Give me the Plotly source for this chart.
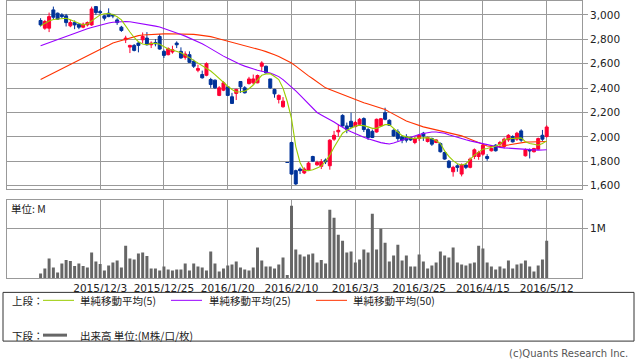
import pandas as pd
import plotly.graph_objects as go

# ---------------- data ----------------
holidays = ['2015-11-23', '2015-12-23', '2015-12-31', '2016-01-01', '2016-01-11',
            '2016-02-11', '2016-03-21', '2016-04-29', '2016-05-03', '2016-05-04', '2016-05-05']
dates = pd.bdate_range('2015-11-12', '2016-05-12', freq='C',
                       holidays=holidays).strftime('%Y-%m-%d').tolist()

open_ = [2954, 2891, 2891, 3041, 3014, 3000, 2992, 2910, 2937, 2924,
         2899, 2918, 2918, 3068, 3027, 2992, 3014, 3000, 2959, 2899,
         2796, 2736, 2750, 2769, 2796, 2810, 2755, 2774, 2823, 2701,
         2674, 2696, 2769, 2701, 2652, 2674, 2619, 2546, 2511, 2505,
         2470, 2465, 2340, 2383, 2410, 2329, 2356, 2454, 2402, 2437,
         2443, 2443, 2579, 2579, 2475, 2389, 2307, 2247, 1790, 1954,
         1723, 1736, 1704, 1728, 1839, 1771, 1758, 1810, 1763, 1981,
         2041, 2176, 2090, 2128, 2084, 2103, 2150, 2060, 2045, 2040,
         2090, 2198, 2136, 2054, 2041, 2000, 2000, 1994, 1954, 1986,
         2030, 1962, 1986, 1954, 1945, 1872, 1801, 1714, 1763, 1695,
         1769, 1750, 1839, 1839, 1858, 1839, 1886, 1932, 1940, 1921,
         1975, 2003, 1981, 2049, 1845, 1894, 1878, 1899, 2013, 2003]
high = [2973, 2959, 3019, 3068, 3019, 3014, 3008, 2959, 2954, 2932,
        2937, 2946, 3068, 3073, 3041, 3000, 3054, 3008, 2973, 2910,
        2829, 2755, 2761, 2777, 2856, 2859, 2783, 2802, 2842, 2715,
        2734, 2747, 2783, 2734, 2701, 2701, 2633, 2592, 2543, 2611,
        2484, 2470, 2416, 2456, 2416, 2361, 2394, 2456, 2416, 2492,
        2511, 2511, 2620, 2584, 2475, 2394, 2348, 2326, 1790, 1960,
        1731, 1750, 1750, 1796, 1845, 1804, 1818, 1823, 1981, 2049,
        2103, 2185, 2117, 2198, 2130, 2155, 2160, 2075, 2060, 2150,
        2155, 2239, 2144, 2062, 2062, 2013, 2022, 2000, 2003, 2022,
        2041, 2003, 1994, 1981, 1954, 1878, 1810, 1763, 1777, 1782,
        1785, 1831, 1905, 1886, 1948, 1858, 1910, 1940, 1967, 1994,
        2022, 2013, 2041, 2062, 1905, 1905, 1910, 1994, 2057, 2095]
low = [2905, 2878, 2859, 2965, 2959, 2973, 2905, 2899, 2883, 2883,
       2891, 2905, 2910, 3000, 3000, 2954, 2981, 2973, 2918, 2861,
       2769, 2687, 2701, 2693, 2769, 2750, 2728, 2742, 2715, 2647,
       2668, 2682, 2728, 2641, 2633, 2606, 2565, 2530, 2478, 2497,
       2402, 2394, 2334, 2375, 2334, 2270, 2302, 2361, 2356, 2429,
       2429, 2440, 2538, 2519, 2394, 2321, 2274, 2239, 1790, 1690,
       1606, 1695, 1695, 1723, 1796, 1763, 1736, 1777, 1731, 1967,
       2003, 2084, 2030, 2076, 2080, 2095, 2040, 1975, 1990, 2035,
       2085, 2136, 2090, 2003, 1967, 1948, 1954, 1967, 1940, 1967,
       1967, 1954, 1926, 1948, 1872, 1812, 1742, 1674, 1714, 1676,
       1736, 1742, 1818, 1812, 1845, 1804, 1880, 1880, 1921, 1905,
       1959, 1954, 1967, 1959, 1839, 1823, 1872, 1894, 1967, 1994]
close = [2918, 2946, 2986, 2981, 2965, 2986, 2937, 2937, 2918, 2899,
         2924, 2937, 3049, 3019, 3019, 2973, 2986, 2992, 2937, 2872,
         2810, 2750, 2709, 2750, 2823, 2755, 2769, 2763, 2720, 2668,
         2723, 2715, 2755, 2647, 2679, 2611, 2579, 2560, 2484, 2600,
         2429, 2402, 2402, 2443, 2340, 2274, 2389, 2410, 2361, 2475,
         2475, 2503, 2606, 2524, 2402, 2353, 2340, 2293, 1790, 1695,
         1614, 1723, 1736, 1785, 1801, 1790, 1796, 1796, 1973, 2013,
         2054, 2090, 2062, 2081, 2117, 2144, 2060, 1995, 1995, 2144,
         2149, 2144, 2095, 2008, 1986, 1973, 1973, 1975, 1986, 2013,
         2008, 1994, 1940, 1975, 1878, 1818, 1750, 1750, 1750, 1769,
         1750, 1818, 1894, 1872, 1932, 1823, 1905, 1886, 1954, 1981,
         2013, 1959, 2030, 1973, 1894, 1886, 1905, 1986, 1981, 2081]

ma5 = [2910, 2932, 2950, 2962, 2967, 2971, 2973, 2960, 2946, 2930,
       2918, 2925, 2950, 2978, 3000, 3010, 3012, 3003, 2985, 2959,
       2905, 2860, 2815, 2780, 2762, 2755, 2766, 2768, 2760, 2740,
       2720, 2712, 2703, 2690, 2670, 2648, 2625, 2606, 2585, 2565,
       2540, 2511, 2478, 2448, 2415, 2388, 2368, 2370, 2375, 2395,
       2425, 2465, 2505, 2515, 2518, 2495, 2470, 2400, 2290, 2150,
       1920, 1790, 1725, 1722, 1730, 1745, 1760, 1800, 1850, 1915,
       1975, 2030, 2055, 2075, 2088, 2095, 2092, 2082, 2070, 2070,
       2085, 2100, 2100, 2070, 2040, 2010, 2000, 1990, 1988, 1990,
       1994, 1994, 1985, 1970, 1945, 1885, 1840, 1805, 1780, 1770,
       1780, 1815, 1850, 1875, 1898, 1905, 1913, 1925, 1940, 1975,
       1985, 1986, 1990, 1992, 1960, 1945, 1940, 1932, 1945, 1967]
ma25 = [2747, 2760, 2773, 2786, 2799, 2811, 2825, 2839, 2853, 2866,
        2877, 2887, 2897, 2907, 2916, 2925, 2933, 2940, 2944, 2946,
        2946, 2944, 2939, 2933, 2926, 2921, 2915, 2908, 2901, 2890,
        2878, 2866, 2853, 2840, 2826, 2812, 2798, 2782, 2764, 2744,
        2722, 2700, 2680, 2662, 2644, 2626, 2609, 2594, 2580, 2567,
        2555, 2546, 2538, 2531, 2524, 2510, 2494, 2469, 2440, 2410,
        2377, 2343, 2307, 2270, 2234, 2200, 2180, 2162, 2145, 2122,
        2099, 2077, 2059, 2042, 2026, 2011, 1997, 1985, 1973, 1963,
        1953, 1947, 1942, 1950, 1962, 1975, 1986, 1996, 2010, 2020,
        2028, 2035, 2040, 2040, 2036, 2030, 2018, 2006, 1994, 1985,
        1976, 1967, 1959, 1950, 1942, 1934, 1927, 1920, 1914, 1910,
        1907, 1904, 1901, 1899, 1897, 1895, 1893, 1891, 1892, 1894]
ma50 = [2470, 2488, 2505, 2523, 2540, 2558, 2576, 2593, 2611, 2628,
        2646, 2664, 2681, 2699, 2716, 2734, 2751, 2769, 2780, 2790,
        2805, 2815, 2824, 2830, 2835, 2838, 2840, 2842, 2843, 2844,
        2845, 2845, 2845, 2844, 2843, 2841, 2840, 2836, 2832, 2829,
        2822, 2813, 2804, 2796, 2787, 2778, 2769, 2760, 2751, 2742,
        2732, 2721, 2710, 2699, 2688, 2673, 2658, 2640, 2623, 2606,
        2580, 2552, 2525, 2500, 2476, 2451, 2427, 2402, 2388, 2374,
        2360, 2346, 2334, 2321, 2307, 2294, 2280, 2269, 2258, 2247,
        2236, 2225, 2205, 2185, 2164, 2144, 2131, 2117, 2104, 2090,
        2082, 2074, 2066, 2057, 2049, 2041, 2033, 2024, 2016, 2008,
        1994, 1979, 1964, 1950, 1937, 1925, 1922, 1921, 1921, 1928,
        1935, 1942, 1949, 1955, 1957, 1958, 1959, 1960, 1961, 1962]

volume_m = [0.10, 0.20, 0.40, 0.22, 0.12, 0.30, 0.37, 0.35, 0.25, 0.30,
            0.25, 0.22, 0.52, 0.34, 0.29, 0.16, 0.26, 0.32, 0.36, 0.22,
            0.66, 0.40, 0.38, 0.50, 0.52, 0.45, 0.20, 0.20, 0.16, 0.24,
            0.18, 0.16, 0.18, 0.18, 0.30, 0.16, 0.30, 0.24, 0.22, 0.16,
            0.54, 0.30, 0.14, 0.20, 0.26, 0.28, 0.34, 0.22, 0.18, 0.16,
            0.22, 0.62, 0.36, 0.24, 0.24, 0.20, 0.28, 0.42, 0.07, 1.46,
            0.58, 0.48, 0.44, 0.48, 0.50, 0.32, 0.37, 0.30, 1.38, 1.22,
            0.88, 0.76, 0.52, 0.54, 0.32, 0.38, 0.58, 0.52, 1.30, 0.58,
            1.00, 0.72, 0.34, 0.46, 0.68, 0.36, 0.46, 0.24, 0.24, 0.48,
            0.34, 0.20, 0.26, 0.32, 0.54, 0.46, 0.42, 0.62, 0.32, 0.28,
            0.26, 0.30, 0.32, 0.66, 0.60, 0.32, 0.24, 0.18, 0.24, 0.20,
            0.36, 0.20, 0.28, 0.30, 0.36, 0.24, 0.14, 0.26, 0.38, 0.76]

tick_dates = ['2015-12-03', '2015-12-25', '2016-01-20', '2016-02-10',
              '2016-03-03', '2016-03-25', '2016-04-15', '2016-05-12']
tick_labels = ['2015/12/3', '2015/12/25', '2016/1/20', '2016/2/10',
               '2016/3/3', '2016/3/25', '2016/4/15', '2016/5/12']
price_ticks = [1600, 1800, 2000, 2200, 2400, 2600, 2800, 3000]

# ---------------- styling ----------------
W, H = 638, 362
RED = '#ff0033'
BLUE = '#003399'
C5, C25, C50 = '#99cc00', '#9900ff', '#ff3300'
GRID = '#999999'
FONT = 'DejaVu Sans, Noto Sans CJK JP, sans-serif'
JFONT = 'Noto Sans CJK JP, DejaVu Sans, sans-serif'


def fx(p):
    return p / W


def fy(p):
    return 1 - p / H


fig = go.Figure()
fig.add_trace(go.Candlestick(
    x=dates, open=open_, high=high, low=low, close=close,
    increasing=dict(line=dict(color=RED, width=1), fillcolor=RED),
    decreasing=dict(line=dict(color=BLUE, width=1), fillcolor=BLUE),
    whiskerwidth=0, showlegend=False, hoverinfo='none',
    xaxis='x', yaxis='y'))
for vals, col in ((ma50, C50), (ma25, C25), (ma5, C5)):
    fig.add_trace(go.Scatter(x=dates, y=vals, mode='lines',
                             line=dict(color=col, width=1.1),
                             showlegend=False, hoverinfo='none',
                             xaxis='x', yaxis='y'))
fig.add_trace(go.Bar(x=dates, y=volume_m, marker=dict(color='#666666', line=dict(width=0)),
                     width=0.7, showlegend=False, hoverinfo='none',
                     xaxis='x2', yaxis='y2'))

xdom = [fx(7), fx(582)]
axis_common = dict(showgrid=True, gridcolor=GRID, gridwidth=1, showline=True,
                   mirror=True, linecolor=GRID, linewidth=1, zeroline=False)
fig.update_layout(
    width=W, height=H, margin=dict(l=0, r=0, t=0, b=0),
    paper_bgcolor='white', plot_bgcolor='white',
    font=dict(family=FONT, size=10, color='#222222'),
    boxgap=0.3, boxgroupgap=0,
    xaxis=dict(domain=xdom, type='category', range=[-7.9, 127.3], anchor='y',
               tickvals=tick_dates, showticklabels=False, ticks='',
               rangeslider=dict(visible=False), **axis_common),
    yaxis=dict(domain=[fy(190), fy(1)], range=[1573, 3114], side='right',
               tickvals=price_ticks, tickformat=',', ticks='outside', ticklen=5,
               tickcolor=GRID, tickfont=dict(size=10.5), anchor='x', **axis_common),
    xaxis2=dict(domain=xdom, type='category', matches='x', anchor='y2',
                tickvals=tick_dates, ticktext=tick_labels, ticks='',
                tickfont=dict(size=10.5), **axis_common),
    yaxis2=dict(domain=[fy(280), fy(201)], range=[0, 1.58], side='right',
                tickvals=[1], ticktext=['1M'], ticks='outside', ticklen=5,
                tickcolor=GRID, tickfont=dict(size=10.5), anchor='x2', **axis_common),
    bargap=0.3,
)

annotations = [
    dict(x=fx(9), y=fy(210), text='単位: M', xanchor='left', yanchor='middle',
         font=dict(family=JFONT, size=10.5)),
    dict(x=fx(10), y=fy(302), text='上段：', xanchor='left', yanchor='middle',
         font=dict(family=JFONT, size=10.5)),
    dict(x=fx(78), y=fy(302), text='単純移動平均(5)', xanchor='left', yanchor='middle',
         font=dict(family=JFONT, size=10.5)),
    dict(x=fx(207), y=fy(302), text='単純移動平均(25)', xanchor='left', yanchor='middle',
         font=dict(family=JFONT, size=10.5)),
    dict(x=fx(351), y=fy(302), text='単純移動平均(50)', xanchor='left', yanchor='middle',
         font=dict(family=JFONT, size=10.5)),
    dict(x=fx(10), y=fy(337), text='下段：', xanchor='left', yanchor='middle',
         font=dict(family=JFONT, size=10.5)),
    dict(x=fx(78), y=fy(337), text='出来高 単位:(M株/口/枚)', xanchor='left', yanchor='middle',
         font=dict(family=JFONT, size=10.5)),
    dict(x=fx(630), y=fy(355), text='(c)Quants Research Inc.', xanchor='right', yanchor='middle',
         font=dict(family=FONT, size=10, color='#555555')),
]
for a in annotations:
    a.update(xref='paper', yref='paper', showarrow=False)
fig.update_layout(annotations=annotations)

shapes = [
    dict(type='rect', x0=fx(3), x1=fx(634), y0=fy(343), y1=fy(294),
         line=dict(color='#333333', width=1)),
    dict(type='line', x0=fx(43), x1=fx(74), y0=fy(302), y1=fy(302), line=dict(color=C5, width=1)),
    dict(type='line', x0=fx(171), x1=fx(202), y0=fy(302), y1=fy(302), line=dict(color=C25, width=1)),
    dict(type='line', x0=fx(316), x1=fx(347), y0=fy(302), y1=fy(302), line=dict(color=C50, width=1)),
    dict(type='line', x0=fx(43), x1=fx(67), y0=fy(337), y1=fy(337), line=dict(color='#666666', width=3)),
]
for s in shapes:
    s.update(xref='paper', yref='paper')
fig.update_layout(shapes=shapes)

fig.write_html('out.html', config={'displayModeBar': False},
               post_script="document.body.style.margin='0';document.body.style.overflow='hidden';")
